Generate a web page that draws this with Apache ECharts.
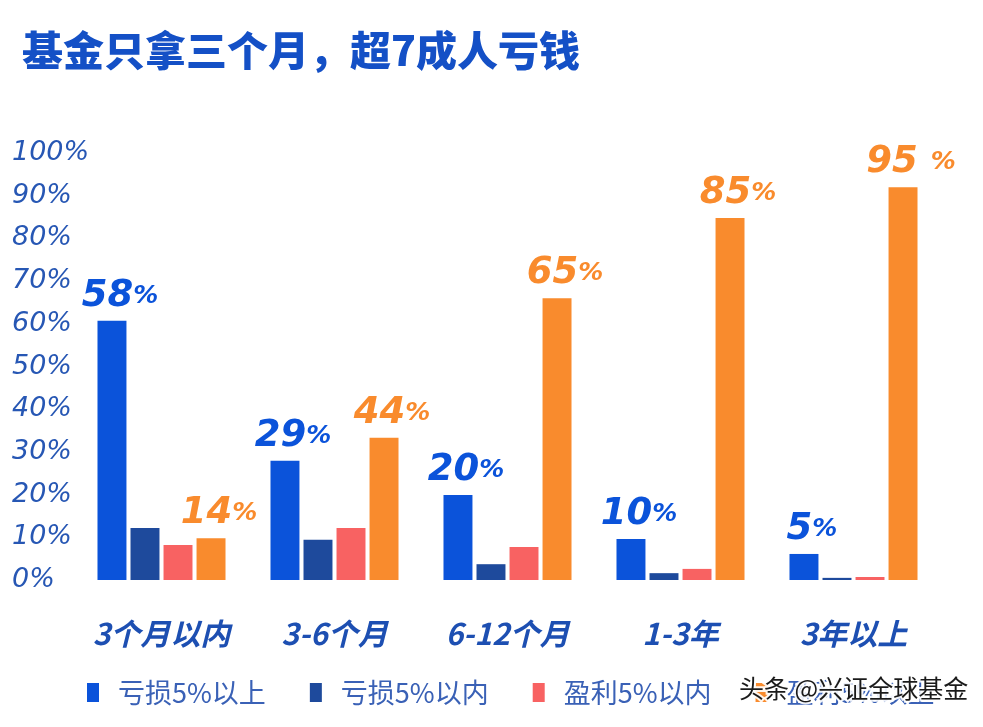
<!DOCTYPE html>
<html>
<head>
<meta charset="utf-8">
<title>基金只拿三个月，超7成人亏钱</title>
<script src="https://cdn.jsdelivr.net/npm/echarts@6/dist/echarts.min.js"></script>
<style>
  html, body { margin: 0; padding: 0; background: #ffffff; }
  #main { width: 983px; height: 727px; }
</style>
</head>
<body>
<div id="main"></div>
<script>
// 持有时长
var categories = ['3个月以内', '3-6个月', '6-12个月', '1-3年', '3年以上'];
var seriesNames = ['亏损5%以上', '亏损5%以内', '盈利5%以内', '盈利5%以上'];

// 柱子高度（按图上量出来的）
var lossBig = [60.7, 27.9, 19.9, 9.6, 6.1];
var lossSmall = [12.2, 9.4, 3.7, 1.6, 0.5];
var gainSmall = [8.2, 12.2, 7.7, 2.6, 0.7];
var gainBig = [9.8, 33.3, 66.0, 84.8, 92.0];

// 图上标注的数字
var lossBigLabels = ['58', '29', '20', '10', '5'];
var gainBigLabels = ['14', '44', '65', '85', '95 '];

var yTicks = [0, 10, 20, 30, 40, 50, 60, 70, 80, 90, 100];

var blue = '#0b53da';
var navy = '#1e4a9c';
var salmon = '#f86262';
var orange = '#f98b2d';
var axisBlue = '#2757b4';

var numFont = "'DejaVu Sans', 'Noto Sans CJK SC', sans-serif";

function bigLabel(labels, color) {
    return {
        show: true,
        position: 'top',
        distance: 6,
        offset: [8, 0],
        formatter: function (p) {
            return '{n|' + labels[p.dataIndex] + '}{p|%}';
        },
        rich: {
            n: { fontSize: 37, fontWeight: 'bold', fontStyle: 'italic', color: color, fontFamily: numFont },
            p: { fontSize: 25, fontWeight: 'bold', fontStyle: 'italic', color: color, fontFamily: numFont }
        }
    };
}

var myChart = echarts.init(document.getElementById('main'));

var colors = [blue, navy, salmon, orange];
var values = [lossBig, lossSmall, gainSmall, gainBig];

var series = [];
for (var i = 0; i < seriesNames.length; i++) {
    var s = {
        name: seriesNames[i],
        type: 'bar',
        data: values[i],
        barGap: '14%',
        barCategoryGap: '26%',
        itemStyle: { color: colors[i] }
    };
    if (i == 0) s.label = bigLabel(lossBigLabels, blue);
    if (i == 3) s.label = bigLabel(gainBigLabels, orange);
    series.push(s);
}

var option = {
    backgroundColor: '#ffffff',
    animation: false,
    title: {
        text: '基金只拿三个月，超7成人亏钱',
        left: 17,
        top: 25,
        textStyle: {
            color: '#1450c6',
            fontSize: 41,
            fontWeight: 900,
            fontFamily: "'Noto Sans CJK SC', sans-serif"
        }
    },
    legend: {
        data: seriesNames,
        left: 82,
        top: 674,
        itemWidth: 12,
        itemHeight: 19,
        itemGap: 44,
        icon: 'rect',
        textStyle: {
            color: '#3a61b6',
            fontSize: 27,
            fontFamily: "'Noto Sans CJK SC', sans-serif",
            padding: [0, 0, 0, 14]
        }
    },
    grid: { left: 75, right: 43, top: 153, bottom: 147 },
    xAxis: {
        type: 'category',
        data: categories,
        axisLine: { show: false },
        axisTick: { show: false },
        axisLabel: {
            interval: 0,
            margin: 39,
            color: '#1d4fb2',
            fontSize: 30,
            fontWeight: 'bold',
            fontStyle: 'italic',
            fontFamily: "'Noto Sans CJK SC', sans-serif"
        }
    },
    yAxis: {
        type: 'value',
        min: yTicks[0],
        max: yTicks[yTicks.length - 1],
        interval: 10,
        splitLine: { show: false },
        axisLine: { show: false },
        axisTick: { show: false },
        axisLabel: {
            align: 'left',
            margin: 63,
            color: axisBlue,
            fontSize: 27,
            fontStyle: 'italic',
            fontFamily: numFont,
            formatter: '{value}%'
        }
    },
    graphic: [{
        type: 'text',
        left: 737,
        top: 674,
        z: 100,
        style: {
            text: '头条 @兴证全球基金',
            fontSize: 25,
            fontFamily: "'Noto Sans CJK SC', sans-serif",
            fill: '#1a1a1a',
            stroke: 'rgba(255,255,255,0.9)',
            lineWidth: 4
        }
    }],
    series: series
};

myChart.setOption(option);
</script>
</body>
</html>
